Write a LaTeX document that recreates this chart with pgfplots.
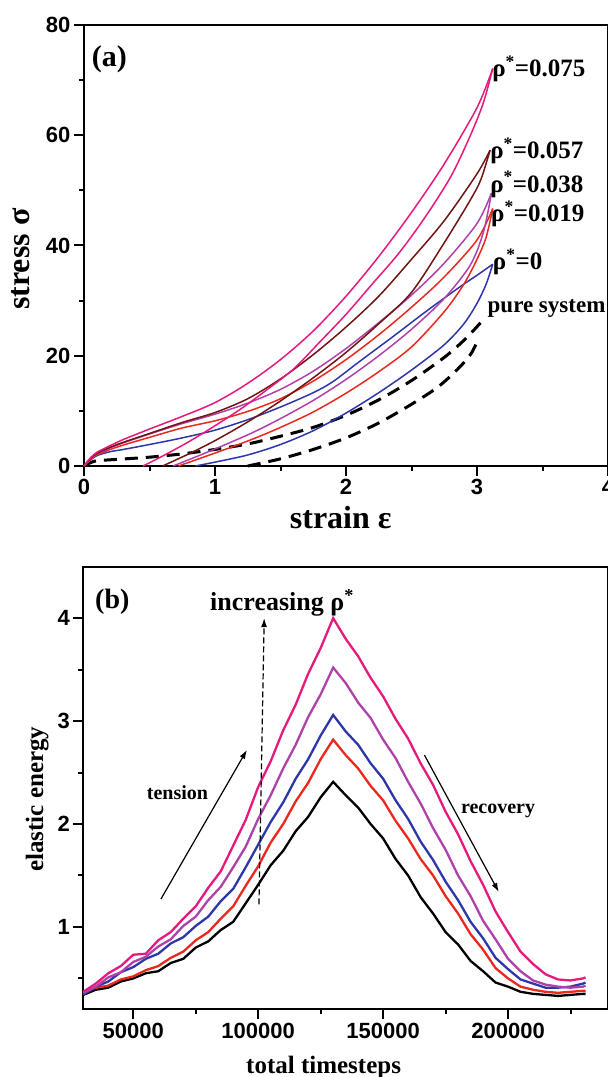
\documentclass[border=0pt]{standalone}
\usepackage{fontspec}
\setmainfont{Liberation Serif}
\setsansfont{Liberation Sans}
\usepackage{pgfplots}
\pgfplotsset{compat=1.18}
\usetikzlibrary{arrows.meta}

\definecolor{cpink}{RGB}{230,25,125}
\definecolor{cbrown}{RGB}{115,20,20}
\definecolor{cpurple}{RGB}{175,65,170}
\definecolor{cred}{RGB}{235,40,30}
\definecolor{cblue}{RGB}{45,55,170}

\pgfplotsset{
  panel/.style={
    scale only axis, anchor=south west,
    axis line style={line width=2pt},
    tick style={line width=2pt, black},
    tick align=outside, tick pos=left,
    major tick length=10pt, minor tick length=5pt,
    tick label style={font=\sffamily\bfseries\fontsize{22}{26}\selectfont},
    /pgf/number format/assume math mode=true,
    label style={font=\bfseries\fontsize{32}{36}\selectfont},
    clip=false,
  },
  loopa/.style={line width=1.5pt, smooth},
}

\begin{document}
\begin{tikzpicture}
% ---------------- (a) stress-strain loops ----------------
\begin{axis}[panel,
  at={(84pt,611pt)}, width=524pt, height=441pt,
  xmin=0, xmax=4, ymin=0, ymax=80,
  xtick={0,1,2,3,4}, ytick={0,20,40,60,80},
  minor xtick={0.5,1.5,2.5,3.5}, minor ytick={10,30,50,70},
  xlabel={strain ε}, ylabel={stress σ},
  xlabel style={at={(axis description cs:0.49,-0.141)}, anchor=base},
  ylabel style={at={(axis description cs:-0.12,0.469)}, anchor=center},
]
% pure system (dashed)
\addplot[black, line width=3pt, dash pattern=on 13pt off 8pt, smooth] coordinates {
 (0,0) (0.05,0.6) (0.1,0.95) (0.25,1.2) (0.5,1.6) (0.75,2.2) (1.0,3.0) (1.25,4.0)
 (1.5,5.4) (1.75,7.0) (2.0,9.2) (2.25,12.0) (2.5,15.5) (2.75,19.7) (2.9,22.8) (3.02,25.8) (3.05,26.8)};
\addplot[black, line width=3pt, dash pattern=on 13pt off 8pt, smooth] coordinates {
 (1.25,0) (1.5,1.3) (1.75,3.0) (2.0,5.1) (2.25,7.8) (2.5,11.2) (2.7,14.3) (2.85,17.5) (2.95,20.2) (3.0,22.5)};
% rho = 0
\addplot[cblue, loopa] coordinates {
 (0,0) (0.05,1.1) (0.1,1.9) (0.2,2.6) (0.3,3.0) (0.5,3.9) (0.75,5.1) (1.0,6.5) (1.25,8.4)
 (1.5,10.7) (1.75,13.3) (1.9,15.3) (2.1,18.9) (2.36,23.5) (2.62,28.2) (2.87,32.5) (3.0,34.6) (3.12,36.6)};
\addplot[cblue, loopa] coordinates {
 (0.85,0) (1.0,0.7) (1.25,2.0) (1.5,3.9) (1.75,6.4) (2.0,9.6) (2.25,13.3) (2.5,17.4)
 (2.75,22.0) (2.9,25.8) (3.0,29.5) (3.07,33.0) (3.12,36.6)};
% rho = 0.019
\addplot[cred, loopa] coordinates {
 (0,0) (0.05,1.2) (0.1,2.0) (0.2,3.0) (0.3,3.8) (0.5,5.2) (0.75,6.9) (1.0,8.2) (1.25,9.9)
 (1.5,12.2) (1.75,15.4) (2.0,19.3) (2.25,23.8) (2.5,28.8) (2.75,34.3) (3.0,41.0) (3.12,46.7)};
\addplot[cred, loopa] coordinates {
 (0.72,0) (0.9,1.5) (1.1,3.2) (1.3,5.0) (1.5,7.0) (1.75,9.8) (2.0,13.2) (2.25,17.1)
 (2.5,21.6) (2.75,28.0) (2.9,33.0) (3.0,37.5) (3.07,41.5) (3.12,46.7)};
% rho = 0.038
\addplot[cpurple, loopa] coordinates {
 (0,0) (0.05,1.3) (0.1,2.2) (0.2,3.3) (0.3,4.2) (0.5,5.8) (0.75,7.7) (1.0,9.4) (1.25,11.4)
 (1.5,13.9) (1.75,17.2) (2.0,21.3) (2.25,26.0) (2.5,31.0) (2.75,36.8) (3.0,44.0) (3.11,49.5)};
\addplot[cpurple, loopa] coordinates {
 (0.68,0) (0.9,2.1) (1.1,4.1) (1.3,6.2) (1.5,8.6) (1.75,11.9) (2.0,15.7) (2.25,20.0)
 (2.5,24.8) (2.75,30.4) (2.95,36.5) (3.05,42.5) (3.11,49.5)};
% rho = 0.057
\addplot[cbrown, loopa] coordinates {
 (0,0) (0.05,1.4) (0.1,2.3) (0.2,3.4) (0.3,4.3) (0.5,5.9) (0.75,7.9) (1.0,9.7) (1.25,12.2)
 (1.5,15.8) (1.75,20.2) (2.0,25.2) (2.25,30.8) (2.5,37.5) (2.75,44.5) (3.0,53.0) (3.1,57.3)};
\addplot[cbrown, loopa] coordinates {
 (0.6,0) (0.8,2.2) (1.0,4.6) (1.25,8.0) (1.5,11.8) (1.75,16.0) (2.0,20.6) (2.25,25.8)
 (2.5,31.5) (2.75,40.5) (2.95,48.3) (3.03,52.0) (3.1,57.3)};
% rho = 0.075
\addplot[cpink, loopa] coordinates {
 (0,0) (0.05,1.5) (0.1,2.5) (0.2,3.7) (0.3,4.8) (0.5,6.7) (0.75,9.0) (1.0,11.5) (1.25,15.0)
 (1.5,19.3) (1.75,24.5) (2.0,30.8) (2.25,38.0) (2.5,46.0) (2.75,54.8) (3.0,65.0) (3.12,72.1)};
\addplot[cpink, loopa] coordinates {
 (0.45,0) (0.6,1.8) (0.8,4.4) (1.0,7.3) (1.2,10.4) (1.4,13.9) (1.6,17.6) (1.8,22.5)
 (2.0,27.5) (2.2,33.0) (2.4,38.5) (2.6,45.0) (2.8,52.5) (2.95,60.0) (3.05,66.0) (3.12,72.1)};

\node[anchor=base west, inner sep=0, font=\bfseries\fontsize{30}{34}\selectfont]
  at (rel axis cs:0.0147,0.905) {(a)};
\begin{scope}[every node/.style={anchor=base west, inner sep=0, font=\bfseries\fontsize{25}{28}\selectfont}]
\node at (axis cs:3.115,70.7) {ρ\textsuperscript{*}=0.075};
\node at (axis cs:3.10,55.8) {ρ\textsuperscript{*}=0.057};
\node at (axis cs:3.10,49.7) {ρ\textsuperscript{*}=0.038};
\node at (axis cs:3.107,44.3) {ρ\textsuperscript{*}=0.019};
\node at (axis cs:3.12,35.6) {ρ\textsuperscript{*}=0};
\node[font=\bfseries\fontsize{23}{26}\selectfont] at (axis cs:3.08,27.9) {pure system};
\end{scope}
\end{axis}

% ---------------- (b) elastic energy ----------------
\begin{axis}[panel,
  at={(83.3pt,67.7pt)}, width=524.7pt, height=442.6pt,
  xmin=30000, xmax=240000, ymin=0.2, ymax=4.5,
  xtick={50000,100000,150000,200000}, minor xtick={75000,125000,175000,225000},
  ytick={1,2,3,4}, minor ytick={0.5,1.5,2.5,3.5},
  scaled x ticks=false,
  xticklabel style={/pgf/number format/fixed, /pgf/number format/1000 sep={}},
  xlabel={total timesteps}, ylabel={elastic energy},
  label style={font=\bfseries\fontsize{25}{28}\selectfont},
  xlabel style={at={(axis description cs:0.458,-0.144)}, anchor=base},
  ylabel style={at={(axis description cs:-0.088,0.475)}, anchor=center},
]
\addplot[black, line width=2.3pt] table {
x y
30000 0.34
35000 0.39
40000 0.41
45000 0.47
50000 0.50
55000 0.55
60000 0.57
65000 0.65
70000 0.69
75000 0.80
80000 0.86
85000 0.97
90000 1.05
95000 1.23
100000 1.41
105000 1.60
110000 1.74
115000 1.93
120000 2.07
125000 2.26
130000 2.41
135000 2.28
140000 2.16
145000 2.00
150000 1.86
155000 1.66
160000 1.50
165000 1.29
170000 1.13
175000 0.95
180000 0.83
185000 0.67
190000 0.57
195000 0.46
200000 0.42
205000 0.37
210000 0.35
215000 0.34
220000 0.33
225000 0.34
230000 0.35
231000 0.35
};
\addplot[cred, line width=2.3pt] table {
x y
30000 0.36
35000 0.41
40000 0.43
45000 0.49
50000 0.52
55000 0.58
60000 0.62
65000 0.70
70000 0.76
75000 0.87
80000 0.95
85000 1.08
90000 1.20
95000 1.40
100000 1.59
105000 1.82
110000 2.00
115000 2.22
120000 2.40
125000 2.63
130000 2.82
135000 2.67
140000 2.54
145000 2.37
150000 2.23
155000 2.03
160000 1.86
165000 1.66
170000 1.50
175000 1.30
180000 1.13
185000 0.93
190000 0.78
195000 0.60
200000 0.50
205000 0.42
210000 0.39
215000 0.37
220000 0.36
225000 0.37
230000 0.38
231000 0.38
};
\addplot[cblue, line width=2.3pt] table {
x y
30000 0.34
35000 0.42
40000 0.47
45000 0.56
50000 0.61
55000 0.69
60000 0.74
65000 0.84
70000 0.90
75000 1.01
80000 1.10
85000 1.25
90000 1.37
95000 1.58
100000 1.80
105000 2.02
110000 2.21
115000 2.44
120000 2.63
125000 2.86
130000 3.06
135000 2.90
140000 2.77
145000 2.59
150000 2.44
155000 2.23
160000 2.05
165000 1.83
170000 1.65
175000 1.44
180000 1.26
185000 1.05
190000 0.89
195000 0.70
200000 0.59
205000 0.49
210000 0.45
215000 0.41
220000 0.41
225000 0.42
230000 0.45
231000 0.46
};
\addplot[cpurple, line width=2.3pt] table {
x y
30000 0.36
35000 0.42
40000 0.51
45000 0.56
50000 0.66
55000 0.71
60000 0.81
65000 0.88
70000 1.01
75000 1.10
80000 1.26
85000 1.39
90000 1.58
95000 1.78
100000 2.05
105000 2.28
110000 2.54
115000 2.77
120000 3.04
125000 3.26
130000 3.52
135000 3.37
140000 3.18
145000 3.03
150000 2.82
155000 2.64
160000 2.41
165000 2.20
170000 1.96
175000 1.75
180000 1.50
185000 1.30
190000 1.06
195000 0.88
200000 0.69
205000 0.57
210000 0.48
215000 0.44
220000 0.42
225000 0.41
230000 0.42
231000 0.43
};
\addplot[cpink, line width=2.3pt] table {
x y
30000 0.37
35000 0.45
40000 0.55
45000 0.62
50000 0.73
55000 0.74
60000 0.87
65000 0.95
70000 1.08
75000 1.20
80000 1.38
85000 1.54
90000 1.79
95000 2.04
100000 2.36
105000 2.61
110000 2.91
115000 3.16
120000 3.46
125000 3.71
130000 4.00
135000 3.80
140000 3.63
145000 3.42
150000 3.24
155000 3.02
160000 2.83
165000 2.59
170000 2.38
175000 2.12
180000 1.90
185000 1.64
190000 1.41
195000 1.15
200000 0.95
205000 0.76
210000 0.64
215000 0.54
220000 0.49
225000 0.48
230000 0.50
231000 0.51
};

\node[anchor=base west, inner sep=0, font=\bfseries\fontsize{28}{32}\selectfont]
  at (rel axis cs:0.0223,0.906) {(b)};
\node[anchor=base west, inner sep=0, font=\bfseries\fontsize{26}{30}\selectfont]
  at (rel axis cs:0.2415,0.902) {increasing ρ\textsuperscript{*}};
\draw[line width=1.2pt, dash pattern=on 6pt off 3pt, -{Latex[length=9pt,width=6pt]}]
  (axis cs:100300,1.22) -- (axis cs:102400,4.0);
\draw[line width=1.2pt, -{Latex[length=9pt,width=6pt]}]
  (axis cs:61040,1.27) -- (axis cs:95480,2.72);
\draw[line width=1.2pt, -{Latex[length=9pt,width=6pt]}]
  (axis cs:166520,2.67) -- (axis cs:196280,1.34);
\node[anchor=base, font=\bfseries\fontsize{20}{24}\selectfont] at (axis cs:67680,2.242) {tension};
\node[anchor=base, font=\bfseries\fontsize{20}{24}\selectfont] at (axis cs:196000,2.105) {recovery};
\end{axis}

\pgfresetboundingbox
\useasboundingbox (0,0) rectangle (608pt,1077pt);
\end{tikzpicture}
\end{document}
